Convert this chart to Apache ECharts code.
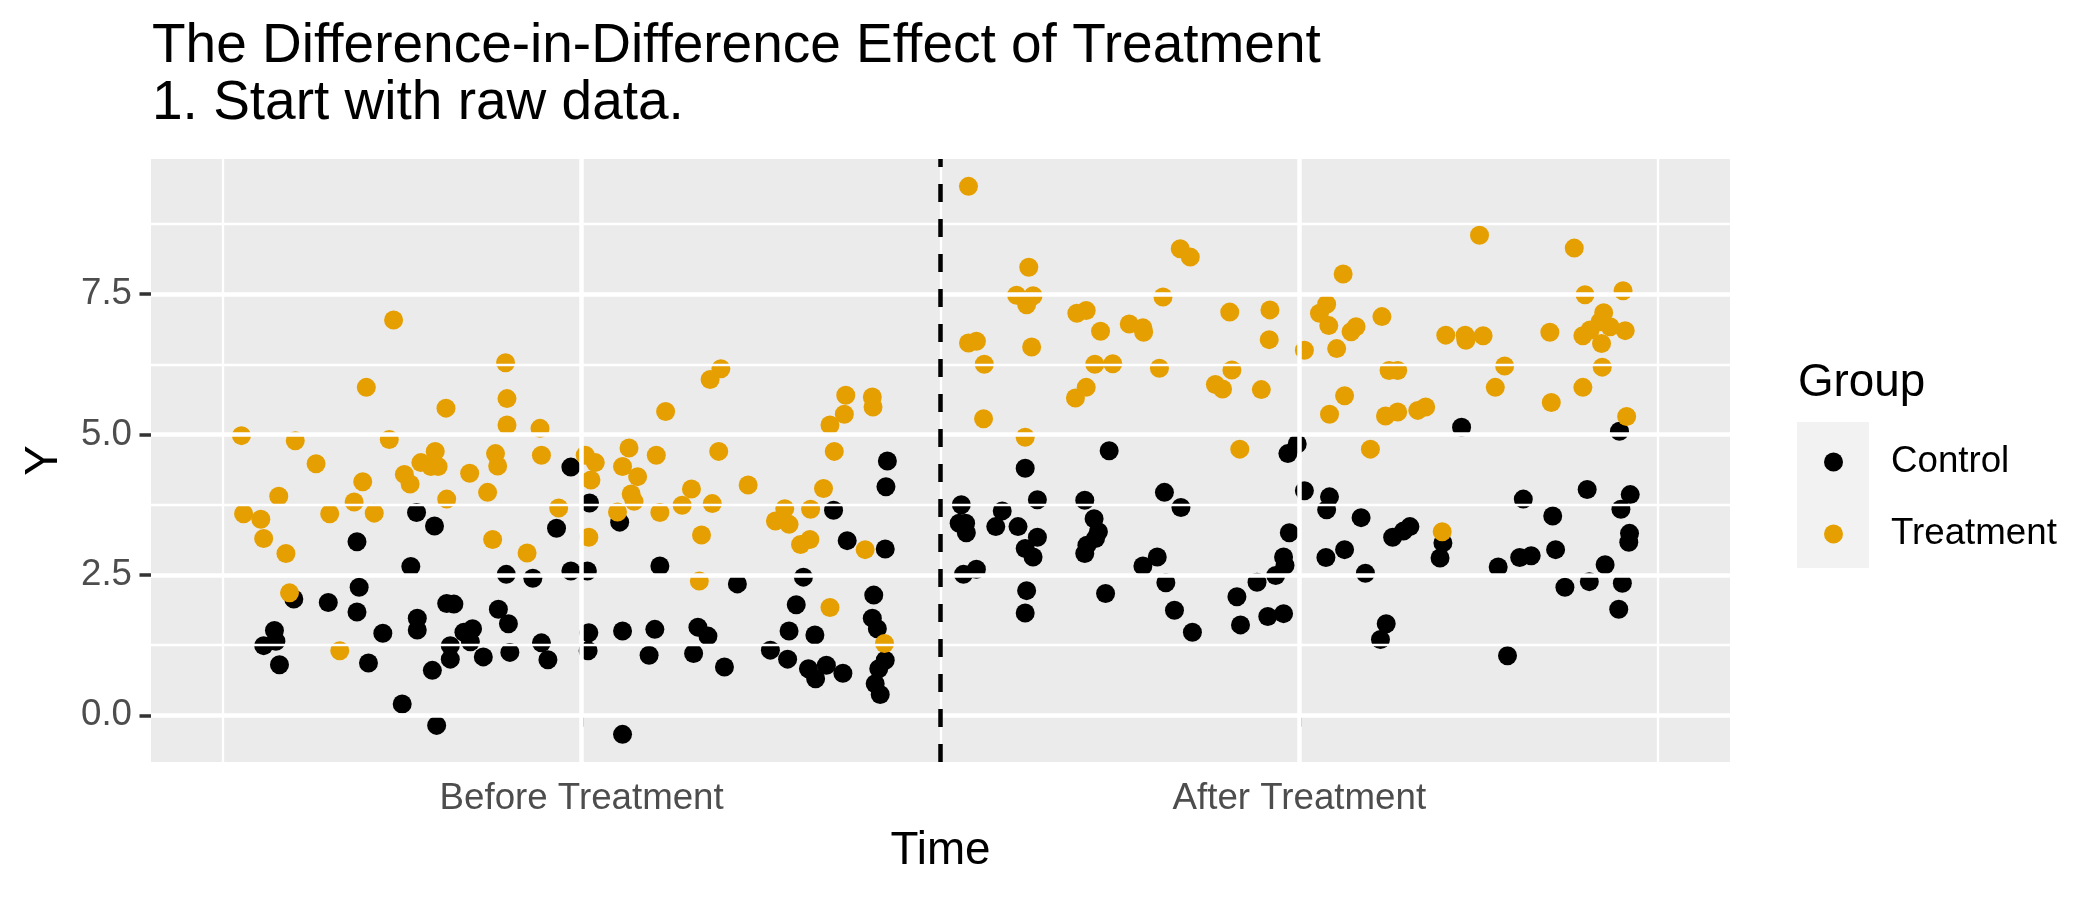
<!DOCTYPE html>
<html>
<head>
<meta charset="utf-8">
<script src="https://cdn.jsdelivr.net/npm/echarts@6/dist/echarts.min.js"></script>
<style>
html,body{margin:0;padding:0;background:#fff;}
#chart{width:2100px;height:900px;}
</style>
</head>
<body>
<div id="chart"></div>
<script>
// ---- data (jittered time position, outcome Y) ----
const controlBeforeX = [0.770,0.795,0.687,0.762,0.895,0.932,0.965,0.690,0.599,0.647,0.687,0.572,0.557,0.574,0.579,0.723,0.703,0.771,0.771,0.812,0.822,0.884,0.898,0.836,0.848,0.845,0.817,0.817,0.792,0.863,0.900,0.944,0.953,0.750,0.798,
  0.985,1.426,1.424,1.011,1.053,1.351,1.370,1.423,0.985,1.008,1.109,1.217,1.309,1.299,1.407,1.405,1.412,1.423,1.414,1.409,1.416,1.010,1.009,1.057,1.102,1.094,1.162,1.176,1.156,1.199,1.263,1.289,1.287,1.325,1.316,1.326,1.341,1.364,1.057];
const controlBeforeY = [3.61,3.37,3.09,2.65,2.51,2.44,3.33,2.28,2.07,2.01,1.84,1.51,1.24,1.32,0.90,1.46,0.93,1.73,1.52,1.99,1.98,1.89,1.63,1.48,1.54,1.31,1.24,1.00,0.80,1.04,1.12,1.29,0.99,0.20,-0.18,
  4.42,4.53,4.07,3.78,3.44,3.65,3.11,2.96,2.57,2.57,2.66,2.34,2.46,1.97,2.14,1.73,1.54,0.98,0.83,0.56,0.37,1.47,1.15,1.50,1.53,1.07,1.57,1.41,1.10,0.86,1.16,1.50,1.00,1.43,0.83,0.65,0.89,0.75,-0.34];

const treatBeforeX = [0.738,0.894,0.700,0.811,0.896,0.896,0.942,0.526,0.601,0.732,0.630,0.796,0.776,0.790,0.800,0.880,0.883,0.944,
  0.753,0.761,0.844,0.578,0.695,0.683,0.529,0.553,0.557,0.588,0.649,0.711,0.812,0.869,0.876,0.924,0.968,0.593,0.663,
  1.194,1.179,1.117,1.368,1.366,1.346,1.405,1.406,1.352,1.191,1.005,1.019,1.066,1.104,1.057,
  1.013,1.078,1.069,1.073,1.050,1.010,1.109,1.140,1.153,1.182,1.232,1.167,1.164,1.270,1.283,1.289,1.319,1.337,1.305,1.318,1.395,1.346,1.422];
const treatBeforeY = [7.04,6.28,5.84,5.47,5.64,5.17,5.11,4.98,4.89,4.91,4.48,4.70,4.50,4.43,4.43,4.66,4.44,4.63,
  4.29,4.12,4.31,3.90,4.16,3.80,3.59,3.49,3.15,2.88,3.59,3.60,3.85,3.97,3.13,2.89,3.69,2.18,1.15,
  6.17,5.98,5.41,5.70,5.36,5.17,5.67,5.49,4.70,4.70,4.63,4.50,4.76,4.63,4.43,
  4.19,4.25,3.94,3.81,3.62,3.17,3.61,3.74,4.03,3.77,4.10,3.21,2.39,3.46,3.68,3.40,3.67,4.04,3.04,3.13,2.95,1.92,1.28];

const controlAfterX = [1.735,1.984,1.997,2.226,2.446,
  1.618,1.529,1.526,1.535,1.536,1.586,1.577,1.608,1.635,1.635,1.618,1.629,1.532,1.550,1.620,1.618,1.701,1.714,1.720,1.716,1.704,1.701,1.730,1.812,1.835,1.782,1.802,1.814,1.826,1.851,1.913,1.918,1.941,1.956,1.978,1.967,1.978,1.980,1.986,2.007,2.042,2.038,2.037,2.063,
  2.086,2.092,2.130,2.145,2.154,2.200,2.196,2.121,2.113,2.312,2.277,2.307,2.323,2.290,2.353,2.357,2.370,2.401,2.404,2.426,2.450,2.445,2.461,2.448,2.460,2.459];
const controlAfterY = [4.71,4.66,4.83,5.13,5.06,
  4.40,3.75,3.42,3.42,3.25,3.64,3.36,3.36,3.84,3.17,2.97,2.82,2.51,2.60,2.22,1.82,3.83,3.50,3.27,3.15,3.03,2.88,2.17,3.97,3.70,2.66,2.82,2.36,1.87,1.48,2.11,1.61,2.37,1.76,1.81,2.49,2.82,2.67,3.25,4.00,3.89,3.66,2.81,2.95,
  3.52,2.53,3.17,3.28,3.36,3.07,2.80,1.63,1.35,3.85,2.64,2.81,2.84,1.06,3.55,2.95,2.28,4.02,2.38,2.68,2.35,1.89,3.93,3.67,3.24,3.08];

const treatAfterX = [1.539,1.623,1.606,1.629,1.620,1.834,1.848,1.810,2.061,1.539,1.550,1.561,1.627,1.560,1.618,1.690,1.703,1.723,1.763,1.782,1.783,1.715,1.740,1.805,1.703,1.688,1.903,1.959,1.958,1.906,1.883,1.893,1.947,1.917,2.007,2.028,2.038,2.041,2.052,2.042,
  2.251,2.383,2.398,2.451,2.115,2.079,2.072,2.204,2.231,2.232,2.256,2.349,2.395,2.405,2.424,2.419,2.433,2.421,2.454,2.422,2.395,2.351,2.286,2.273,2.125,2.137,2.063,2.120,2.137,2.165,2.176,2.099,2.456,2.199];
const treatAfterY = [9.42,7.98,7.48,7.47,7.31,8.31,8.16,7.45,7.86,6.63,6.66,6.25,6.56,5.28,4.95,7.16,7.21,6.84,6.97,6.90,6.82,6.25,6.26,6.18,5.84,5.65,7.18,7.22,6.69,6.15,5.89,5.81,5.80,4.74,6.50,7.16,7.32,6.94,6.53,5.36,
  8.55,8.32,7.49,7.56,7.10,6.92,6.83,6.77,6.77,6.68,6.76,6.82,6.76,6.86,7.17,7.01,6.92,6.62,6.85,6.20,5.84,5.57,6.22,5.84,6.14,6.14,5.69,5.33,5.40,5.43,5.49,4.74,5.32,3.27];

const xTickValues = [1, 2];
const xTickLabels = ['Before Treatment', 'After Treatment'];
const xMinorGrid = [0.5, 1.5, 2.5];
const yTickValues = [0, 2.5, 5, 7.5];
const yMinorGrid = [1.25, 3.75, 6.25, 8.75];
const treatmentStart = [1.5];
const groups = ['Control', 'Treatment'];

function zip(xs, ys) { return xs.map((x, i) => [x, ys[i]]); }

const FONT = '"Liberation Sans", Arial, Helvetica, sans-serif';
const chart = echarts.init(document.getElementById('chart'), null, {renderer: 'canvas'});

const option = {
  animation: false,
  backgroundColor: '#ffffff',
  textStyle: {fontFamily: FONT},
  title: [
    {
      text: 'The Difference-in-Difference Effect of Treatment\n1. Start with raw data.',
      left: 152, top: 18, padding: 0,
      textStyle: {fontFamily: FONT, fontSize: 55, fontWeight: 'normal', color: '#000', lineHeight: 57.5}
    },
    {
      text: 'Group', left: 1798, top: 360, padding: 0,
      textStyle: {fontFamily: FONT, fontSize: 45.8, fontWeight: 'normal', color: '#000'}
    }
  ],
  graphic: [
    {type: 'rect', left: 1797, top: 422, shape: {width: 72, height: 146}, style: {fill: '#F2F2F2'}, z: 0, silent: true}
  ],
  legend: {
    data: groups,
    orient: 'vertical',
    left: 1824, top: 442, padding: 0,
    itemWidth: 19, itemHeight: 19, itemGap: 32,
    icon: 'circle',
    z: 5,
    textStyle: {fontFamily: FONT, fontSize: 36.7, color: '#000', lineHeight: 40, padding: [0, 0, 0, 43]}
  },
  grid: {
    left: 151, top: 159, width: 1579, height: 603,
    containLabel: false,
    show: true, backgroundColor: '#EBEBEB', borderWidth: 0
  },
  xAxis: {
    type: 'value', min: 0.4, max: 2.6,
    name: 'Time', nameLocation: 'middle', nameGap: 66,
    nameTextStyle: {fontFamily: FONT, fontSize: 45.8, color: '#000'},
    axisLine: {show: false},
    axisTick: {show: true, length: 11.5, customValues: xTickValues, lineStyle: {color: '#333333', width: 3.5}},
    axisLabel: {
      show: true, customValues: xTickValues, margin: 18,
      fontFamily: FONT, fontSize: 36.7, color: '#4D4D4D',
      formatter: v => xTickLabels[xTickValues.indexOf(v)] || ''
    },
    splitLine: {show: false}
  },
  yAxis: {
    type: 'value', min: -0.832, max: 9.907,
    name: 'Y', nameLocation: 'middle', nameGap: 84, nameRotate: 90,
    nameTextStyle: {fontFamily: FONT, fontSize: 45.8, color: '#000'},
    axisLine: {show: false},
    axisTick: {show: true, length: 11.5, customValues: yTickValues, lineStyle: {color: '#333333', width: 3.5}},
    axisLabel: {
      show: true, customValues: yTickValues, margin: 19,
      fontFamily: FONT, fontSize: 36.7, color: '#4D4D4D',
      formatter: v => v.toFixed(1)
    },
    splitLine: {show: false}
  },
  series: [
    {
      name: 'minorGrid', type: 'line', data: [], z: 1, silent: true,
      markLine: {
        silent: true, symbol: ['none', 'none'], label: {show: false},
        lineStyle: {color: '#FFFFFF', width: 2.3, type: 'solid'},
        emphasis: {disabled: true},
        data: yMinorGrid.map(v => ({yAxis: v})).concat(xMinorGrid.map(v => ({xAxis: v})))
      }
    },
    {
      name: 'majorGrid', type: 'line', data: [], z: 1, silent: true,
      markLine: {
        silent: true, symbol: ['none', 'none'], label: {show: false},
        lineStyle: {color: '#FFFFFF', width: 4.5, type: 'solid'},
        emphasis: {disabled: true},
        data: yTickValues.map(v => ({yAxis: v})).concat(xTickValues.map(v => ({xAxis: v})))
      }
    },
    {
      name: 'Control', type: 'scatter', symbol: 'circle', symbolSize: 19, z: 3,
      itemStyle: {color: '#000000', opacity: 1},
      data: zip(controlBeforeX, controlBeforeY).concat(zip(controlAfterX, controlAfterY))
    },
    {
      name: 'Treatment', type: 'scatter', symbol: 'circle', symbolSize: 19, z: 3,
      itemStyle: {color: '#E69F00', opacity: 1},
      data: zip(treatBeforeX, treatBeforeY).concat(zip(treatAfterX, treatAfterY))
    },
    {
      name: 'treatmentLine', type: 'line', data: [], z: 4, silent: true,
      markLine: {
        silent: true, symbol: ['none', 'none'], label: {show: false},
        lineStyle: {color: '#000000', width: 4.5, type: [18, 17]},
        emphasis: {disabled: true},
        data: treatmentStart.map(v => ({xAxis: v}))
      }
    }
  ]
};
chart.setOption(option);
</script>
</body>
</html>
